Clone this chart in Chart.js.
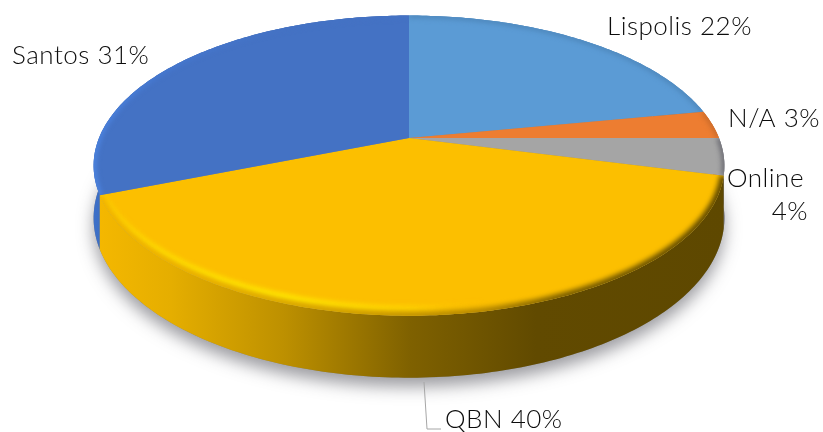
<!DOCTYPE html>
<html>
<head>
<meta charset="utf-8">
<title>Pie</title>
<script src="https://cdn.jsdelivr.net/npm/chart.js@4"></script>
<style>
  html, body { margin: 0; padding: 0; background: #fff; }
  canvas { display: block; }
</style>
</head>
<body>
<canvas id="pie" width="823" height="432"></canvas>
<script>
// Data
const categories = ['Lispolis', 'N/A', 'Online', 'QBN', 'Santos'];
const shares = [22, 3, 4, 40, 31];
const sliceColors = ['#5B9BD5', '#ED7D31', '#A5A5A5', '#FCBF00', '#4472C4'];

// Label placement, one entry per category: x, baseline y, alignment
const labelSpots = [
    { x: 607, y: 35, align: 'left' },
    { x: 728, y: 127, align: 'left' },
    { x: 808, y: 187, align: 'right', wrap: true },
    { x: 445, y: 428, align: 'left' },
    { x: 12, y: 64, align: 'left' }
];

// Tilted disc: apex, radii, perspective and thickness
const apexX = 409, apexY = 138;
const radiusX = 310, radiusY = 145;
const persp = 0.184;
const thick = 50.6;

// Chart angle -> point on the tilted rim. drop = how far down the side wall
function rimPoint(angle, drop) {
    const u = Math.cos(angle), v = Math.sin(angle);
    const w = 1 - persp * v;
    return [apexX + radiusX * u / w, apexY + radiusY * v / w + drop * thick / w];
}

function traceRim(ctx, from, to, drop, first) {
    const steps = Math.max(2, Math.ceil(Math.abs(to - from) * 60));
    for (let i = 0; i <= steps; i++) {
        const p = rimPoint(from + (to - from) * i / steps, drop);
        if (i === 0 && first) ctx.moveTo(p[0], p[1]);
        else ctx.lineTo(p[0], p[1]);
    }
}

function xGradient(ctx, stops) {
    const g = ctx.createLinearGradient(95, 0, 725, 0);
    stops.forEach(s => g.addColorStop(s[0], s[1]));
    return g;
}

const disc3d = {
    id: 'disc3d',
    beforeDatasetsDraw(chart) {
        const ctx = chart.ctx;
        const arcs = chart.getDatasetMeta(0).data;
        const qbn = categories.indexOf('QBN');
        const santos = categories.indexOf('Santos');

        // soft shadow under the whole disc
        ctx.save();
        ctx.shadowColor = 'rgba(60,60,70,0.5)';
        ctx.shadowBlur = 16;
        ctx.shadowOffsetY = 9;
        ctx.fillStyle = '#888';
        ctx.beginPath();
        traceRim(ctx, 0, Math.PI * 2, 1, true);
        ctx.closePath();
        ctx.fill();
        ctx.restore();

        // side walls
        const walls = {
            Lispolis: '#4a7fb0', 'N/A': '#b5602a', Online: '#5d5d72',
            Santos: xGradient(ctx, [[0, '#3d70c8'], [0.03, '#3a68b8'], [1, '#2d4f8c']]),
            QBN: xGradient(ctx, [[0, '#f5b800'], [0.12, '#e5ae00'], [0.3, '#bd9000'],
                [0.5, '#7f6100'], [0.7, '#614a00'], [1, '#5e4800']])
        };
        [santos, 2, 1, 0, qbn].forEach(i => {
            const a = arcs[i];
            ctx.beginPath();
            traceRim(ctx, a.startAngle, a.endAngle, 0, true);
            traceRim(ctx, a.endAngle, a.startAngle, 1, false);
            ctx.closePath();
            ctx.fillStyle = walls[categories[i]];
            ctx.fill();
        });

        // top faces with a blurred bevel along the rim
        const bevels = {
            Lispolis: '#4d86ba', 'N/A': '#c76a2a', Online: '#66666e',
            Santos: xGradient(ctx, [[0, '#4d86e4'], [0.1, '#4579d2'], [0.3, '#4472C4']]),
            QBN: xGradient(ctx, [[0, '#f2b400'], [0.14, '#e8b000'], [0.3, '#d8a800'],
                [0.45, '#c89a00'], [0.62, '#b08400'], [0.74, '#7a5e00'], [1, '#5e4800']])
        };
        arcs.forEach((a, i) => {
            ctx.save();
            ctx.beginPath();
            ctx.moveTo(apexX, apexY);
            traceRim(ctx, a.startAngle, a.endAngle, 0, false);
            ctx.closePath();
            ctx.fillStyle = sliceColors[i];
            ctx.fill();
            ctx.clip();
            if (i === qbn) {
                // bright highlight a little inside the rim, fading to the right
                ctx.filter = 'blur(2.5px)';
                ctx.beginPath();
                traceRim(ctx, a.startAngle, a.endAngle, -0.11, true);
                ctx.strokeStyle = xGradient(ctx, [[0, '#ffd000'], [0.1, '#ffe000'], [0.3, '#ffea00'],
                    [0.5, '#ffd400'], [0.62, 'rgba(252,191,0,0)'], [1, 'rgba(252,191,0,0)']]);
                ctx.lineWidth = 6;
                ctx.stroke();
            }
            ctx.filter = 'blur(2.5px)';
            ctx.beginPath();
            traceRim(ctx, a.startAngle, a.endAngle, 0, true);
            ctx.strokeStyle = bevels[categories[i]];
            ctx.lineWidth = i === qbn ? 8 : 5;
            ctx.stroke();
            ctx.restore();
        });

        // leader line for the QBN label
        ctx.beginPath();
        ctx.moveTo(424, 382);
        ctx.lineTo(427, 429);
        ctx.lineTo(441, 429);
        ctx.strokeStyle = '#a6a6a6';
        ctx.lineWidth = 1;
        ctx.stroke();

        // labels
        ctx.fillStyle = '#0c0c0c';
        ctx.font = '300 26px Lato';
        ctx.letterSpacing = '0.5px';
        ctx.textBaseline = 'alphabetic';
        categories.forEach((name, i) => {
            const spot = labelSpots[i];
            ctx.textAlign = spot.align;
            if (spot.wrap) {
                ctx.textAlign = 'left';
                ctx.fillText(name, 727, spot.y);
                ctx.textAlign = 'right';
                ctx.fillText(shares[i] + '%', spot.x, spot.y + 33);
            } else {
                ctx.fillText(name + ' ' + shares[i] + '%', spot.x, spot.y);
            }
        });
        return false; // arcs are painted above, skip the flat ones
    }
};

new Chart(document.getElementById('pie'), {
    type: 'pie',
    data: {
        labels: categories,
        datasets: [{ data: shares, backgroundColor: sliceColors, borderWidth: 0 }]
    },
    options: {
        responsive: false,
        animation: false,
        plugins: { legend: { display: false }, tooltip: { enabled: false } }
    },
    plugins: [disc3d]
});
</script>
</body>
</html>
